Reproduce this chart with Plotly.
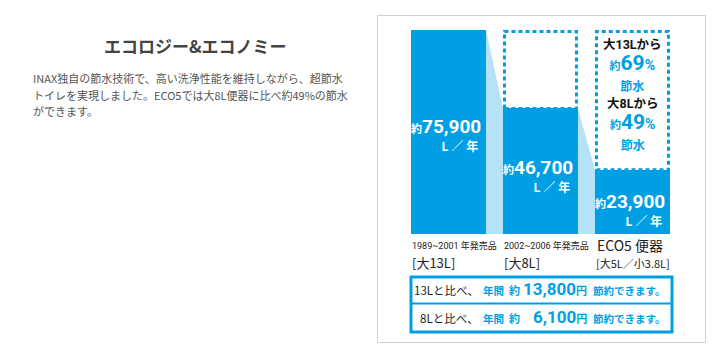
import plotly.graph_objects as go

# ---- data ----
values = [75900, 46700, 23900]
period_labels = ["1989~2001 年発売品", "2002~2006 年発売品", "ECO5 便器"]
capacity_labels = ["[大13L]", "[大8L]", "[大5L／小3.8L]"]
unit_label = "L ／ 年"
saving_from = ["大13Lから", "大8Lから"]
saving_pct = [69, 49]
compare_labels = ["13Lと比べ、", "8Lと比べ、"]
yen_savings = [13800, 6100]
title_text = "エコロジー&エコノミー"
body_lines = [
    "INAX独自の節水技術で、高い洗浄性能を維持しながら、超節水",
    "トイレを実現しました。ECO5では大8L便器に比べ約49%の節水",
    "ができます。",
]

W, H = 717, 353
BLUE = "#009fe4"
LIGHT = "#b5e2f7"
JP = "Noto Sans CJK JP"
NUM = "Roboto, Noto Sans CJK JP"

# pixel geometry of the plotting area
BAR_BOTTOM_PX, BAR_TOP_PX = 234, 30
X0_PX, STEP_PX = 448.5, 92.0
BAR_W = 75 / STEP_PX


def fx(px):
    return px / W


def fy(py):
    return 1 - py / H


def x_to_data(px):
    return (px - X0_PX) / STEP_PX


ymax = max(values)
px_per_unit = (BAR_BOTTOM_PX - BAR_TOP_PX) / ymax

fig = go.Figure()
xs = list(range(len(values)))
fig.add_trace(go.Bar(x=xs, y=values, width=BAR_W, marker=dict(color=BLUE, line=dict(width=0)),
                     hoverinfo="skip", showlegend=False))

shapes = []
# panel border
shapes.append(dict(type="rect", xref="paper", yref="paper", x0=fx(377.5), x1=fx(705.5),
                   y0=fy(342.5), y1=fy(15.5), line=dict(color="#cfcfcf", width=1), layer="below"))

# connectors between bars
for i in range(len(values) - 1):
    xa = xs[i] + BAR_W / 2
    xb = xs[i + 1] - BAR_W / 2
    path = f"M {xa} {values[i]} L {xb} {values[i+1]} L {xb} 0 L {xa} 0 Z"
    shapes.append(dict(type="path", xref="x", yref="y", path=path, fillcolor=LIGHT,
                       line=dict(width=0), layer="below"))

# dotted boxes showing the saved amount
inset_x = 1.5 / STEP_PX
inset_y = 1.5 / px_per_unit
for i in range(1, len(values)):
    shapes.append(dict(type="rect", xref="x", yref="y",
                       x0=xs[i] - BAR_W / 2 + inset_x, x1=xs[i] + BAR_W / 2 - inset_x,
                       y0=values[i], y1=values[0] - inset_y,
                       line=dict(color=BLUE, width=3, dash="4px,3px")))

# bottom savings box
shapes.append(dict(type="rect", xref="paper", yref="paper", x0=fx(411), x1=fx(672),
                   y0=fy(332), y1=fy(277), line=dict(color=BLUE, width=3)))
shapes.append(dict(type="line", xref="paper", yref="paper", x0=fx(411), x1=fx(672),
                   y0=fy(303.5), y1=fy(303.5), line=dict(color=BLUE, width=2)))

ann = []


def add(text, x, y, size, color="#222", xanchor="left", bold=False, family=JP, xref="paper",
        align="left"):
    if bold:
        text = f"<b>{text}</b>"
    ann.append(dict(text=text, x=x, y=fy(y), xref=xref, yref="paper", xanchor=xanchor,
                    yanchor="middle", showarrow=False, align=align,
                    font=dict(size=size, color=color, family=family)))


# left text block
add(title_text, fx(195), 45, 17, "#444", xanchor="center", bold=True)
for k, line in enumerate(body_lines):
    add(line, fx(31), [78, 95, 111][k], 11, "#555")

# value labels inside bars (number + unit as one right-aligned block)
num_y = [125, 166, 200]
for i, v in enumerate(values):
    right = xs[i] + BAR_W / 2 - 3 / STEP_PX
    txt = (f"<span style='font-size:11px'>約</span><span style='font-size:19px'>{v:,}</span>"
           f"<br><span style='font-size:12px'>{unit_label} </span>")
    add(txt, right, num_y[i] + 9, 14, "white", xanchor="right", bold=True, family=NUM,
        xref="x", align="right")

# labels below bars
for i in range(len(values)):
    left = xs[i] - BAR_W / 2
    if i < 2:
        add(period_labels[i], left - 1 / STEP_PX, 245, 9, "#222", family=NUM, xref="x")
        add(capacity_labels[i], left - 1 / STEP_PX, 262, 13, "#222", xref="x")
    else:
        add(period_labels[i], left, 245, 14, "#222", xref="x")
        add(capacity_labels[i], left - 1 / STEP_PX, 263, 11, "#222", xref="x")

# saving percentages in the dotted box of the last bar
cx = xs[-1]
for k in range(len(saving_pct)):
    base = [45, 105][k]
    txt = (f"<span style='font-size:12.5px;color:#111'>{saving_from[k]}</span><br>"
           f"<span style='font-size:11px'>約</span><span style='font-size:21px'>{saving_pct[k]}</span>"
           f"<span style='font-size:14px'>%</span><br>"
           f"<span style='font-size:12px'>節水</span>")
    add(txt, cx, base + 20, 16, BLUE, xanchor="center", bold=True, family=NUM, xref="x",
        align="center")

# savings rows
for k in range(len(yen_savings)):
    yy = [290, 318][k]
    add(compare_labels[k], fx(481), yy, 11.5, "#222", xanchor="right")
    add("年間", fx(481), yy, 10.5, BLUE, bold=True)
    add("約", fx(507), yy, 11, BLUE, bold=True)
    add(f"{yen_savings[k]:,}<span style='font-size:11px'>円</span>", fx(589), yy - 1, 17, BLUE,
        xanchor="right", bold=True, family=NUM)
    add("節約できます。", fx(591), yy, 10.5, BLUE, bold=True)

fig.update_layout(
    width=W, height=H, autosize=False,
    margin=dict(l=0, r=0, t=0, b=0),
    paper_bgcolor="white", plot_bgcolor="white",
    xaxis=dict(domain=[0, 1], range=[x_to_data(0), x_to_data(W)], visible=False, fixedrange=True),
    yaxis=dict(domain=[fy(BAR_BOTTOM_PX), fy(BAR_TOP_PX)], range=[0, ymax], visible=False,
               fixedrange=True),
    shapes=shapes, annotations=ann, bargap=0, showlegend=False,
)
fig.write_html("out.html", config={"displayModeBar": False})
